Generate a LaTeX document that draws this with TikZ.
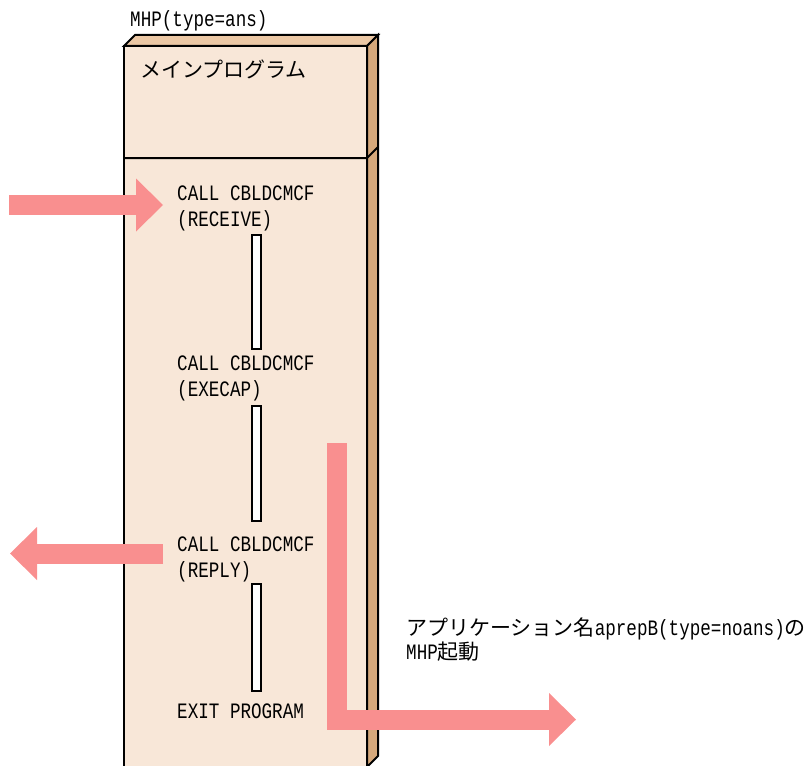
\documentclass[tikz,border=0pt]{standalone}
\usepackage{fontspec}
\setmainfont[FakeStretch=0.8]{Liberation Mono}
\newfontfamily\jp{Noto Sans CJK JP}
\usetikzlibrary{arrows.meta, positioning}
\definecolor{frontface}{HTML}{F8E7D8}
\definecolor{topface}{HTML}{ECC8A5}
\definecolor{sideface}{HTML}{D5A87B}
\definecolor{flowpink}{HTML}{F98F8F}

\begin{document}
\begin{tikzpicture}[
    x=1pt, y=-1pt,
    every node/.style={font=\fontsize{22}{26}\selectfont, inner sep=0pt},
    face/.style={draw=black, line width=2pt, line join=miter},
    bar/.style={rectangle, draw=black, line width=1.5pt, fill=white, minimum width=9pt},
    stmt/.style={anchor=base west, align=left},
    flow/.style={line width=20pt, draw=flowpink, -{Triangle[length=27pt, width=53pt, line width=0pt]}}
  ]
    \useasboundingbox (0,0) rectangle (810,765);
    % Box (front, top, side)
    \fill[frontface] (124,46) rectangle (367,768);
    \draw[face, fill=topface] (124,46) -- (135,35) -- (378,35) -- (367,46) -- cycle;
    \draw[face, fill=sideface] (367,46) -- (378,35) -- (378,756) -- (367,767) -- cycle;
    \draw[face] (124,768) -- (124,46) -- (367,46);
    \draw[face] (124,158) -- (367,158) -- (378,147);
    % Nodes (base = last line)
    \node[stmt] (mhp) at (130,27) {MHP(type=ans)};
    \node[stmt] (mainprog) at (140,78) {\fontsize{21}{26}\selectfont\jp メインプログラム};
    \node[stmt] (receive) at (177,226) {CALL CBLDCMCF\\(RECEIVE)};
    \node[stmt] (execap) at (177,396) {CALL CBLDCMCF\\(EXECAP)};
    \node[stmt] (reply) at (177,577) {CALL CBLDCMCF\\(REPLY)};
    \node[stmt] (exitprog) at (177,718) {EXIT PROGRAM};
    \node[stmt] (spawn) at (406,659) {{\fontsize{21}{26}\selectfont\jp アプリケーション名}aprepB(type=noans){\fontsize{21}{26}\selectfont\jp の}\\[-2pt]MHP{\fontsize{21}{26}\selectfont\jp 起動}};
    % Bars
    \node[bar, minimum height=114pt] (bar1) at (256.5,292) {};
    \node[bar, minimum height=115pt] (bar2) at (256.5,463.5) {};
    \node[bar, minimum height=107pt] (bar3) at (256.5,637.5) {};
    % Flows
    \coordinate (inflow) at (9,205);
    \coordinate (outflow) at (10,553.5);
    \coordinate (spawnfrom) at (336.5,443);
    \coordinate (spawnto) at (576,719.5);
    \draw[flow] (inflow) -- ([xshift=-14pt]inflow -| receive.west);
    \draw[flow] ([xshift=-14pt]reply.west |- outflow) -- (outflow);
    \draw[flow] (spawnfrom) |- (spawnto);
  \end{tikzpicture}
\end{document}
